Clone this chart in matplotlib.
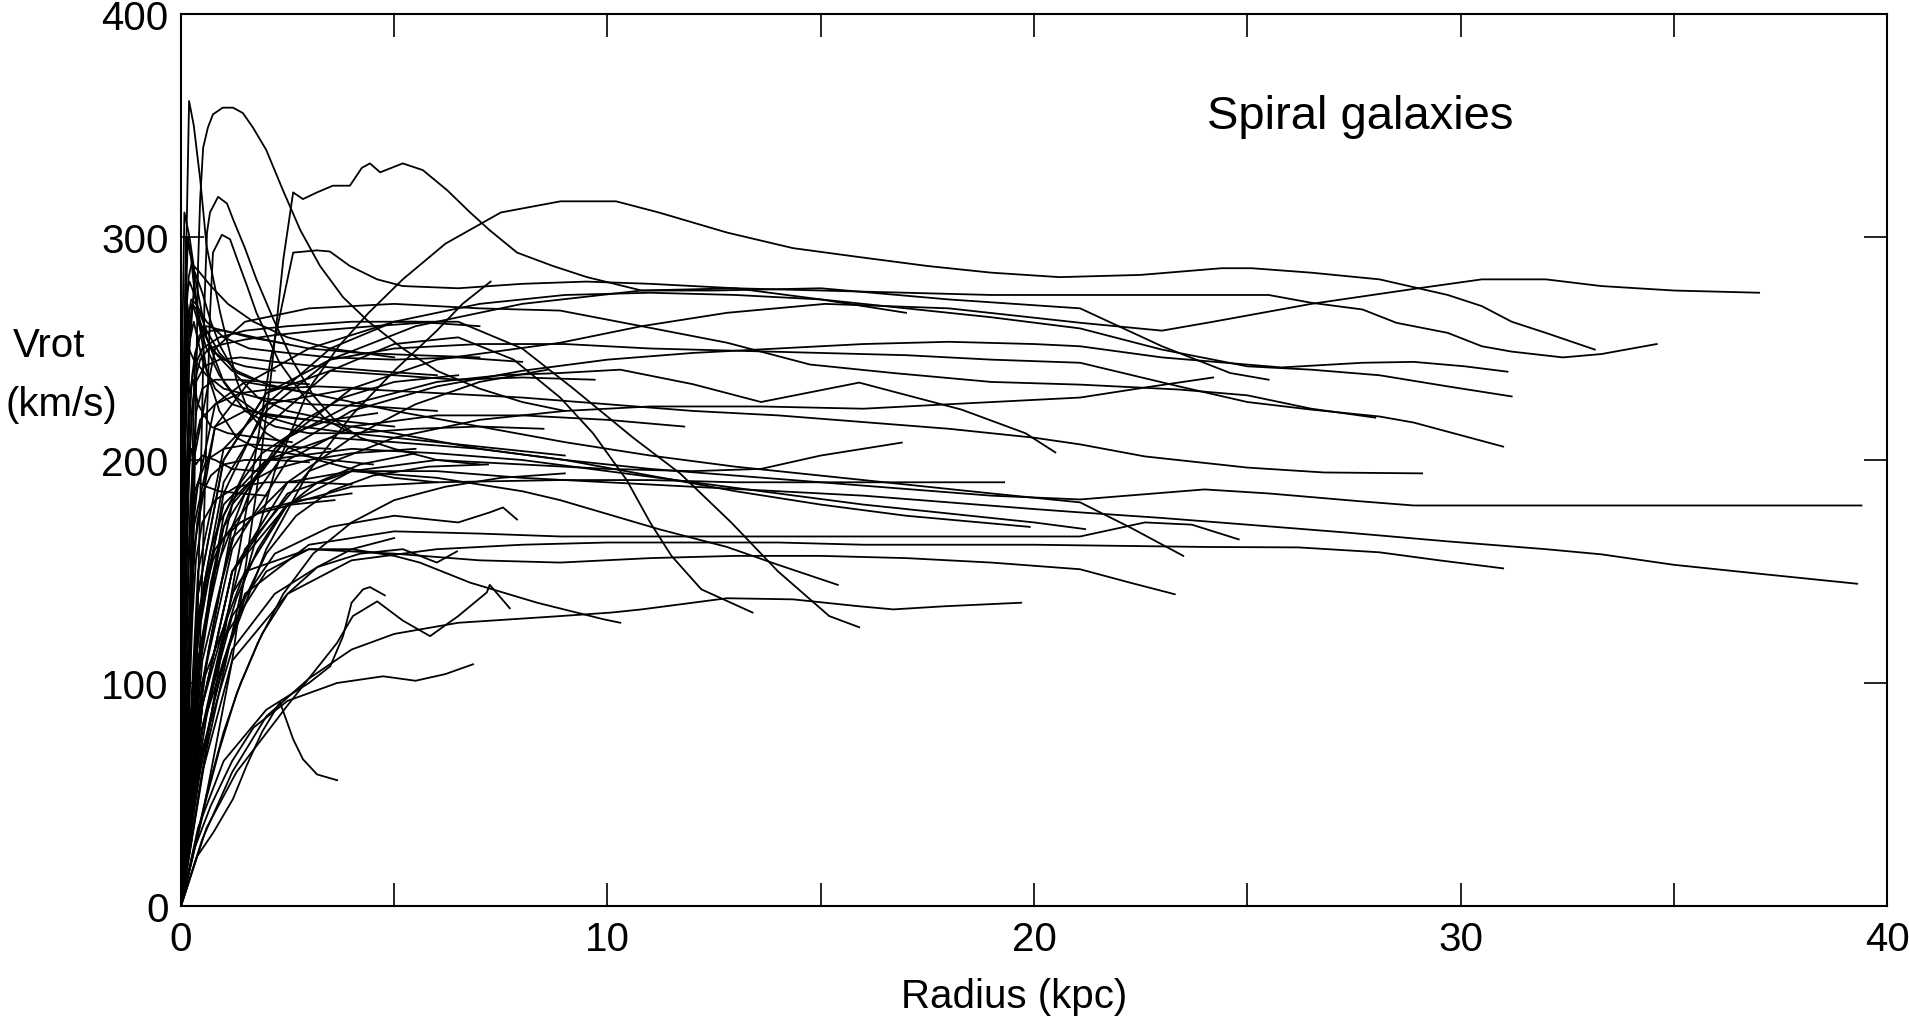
import numpy as np
import matplotlib.pyplot as plt

plt.rcParams['font.family'] = ['Liberation Sans', 'DejaVu Sans']

# rotation curves: (radius in kpc, Vrot in km/s)
g01 = ([0, 0.3, 0.8, 1.5, 2.5, 4, 6, 8.9, 10.8, 12.8, 15.1, 18, 21.1, 23, 24.2, 26.5, 28.9, 30.5, 32, 33.3, 35, 37.0],
       [0, 90, 150, 185, 210, 232, 245, 252.6, 260, 266, 270, 268, 261.5, 258, 262, 270, 276.7, 281, 281, 278, 276, 275])
g02 = ([0, 0.6, 1.4, 2.2, 3.0, 3.7, 4.4, 5.2, 6.2, 7.5, 8.9, 10.2, 11.2, 12.8, 14.35, 15.9, 17.5, 19.0, 20.6, 22.5,
        24.4, 25.1, 26.5, 28.1, 29.7, 30.5, 31.2, 32.0, 33.15],
       [0, 70, 140, 195, 232, 251, 266, 281, 297, 311, 316, 316, 311, 302, 295, 291, 287, 284, 282, 283,
        286, 286, 284, 281, 274, 269, 262, 257, 249.5])
g03 = ([0, 0.5, 1.2, 1.8, 2.1, 2.4, 2.63, 2.86, 3.19, 3.56, 3.96, 4.24, 4.43, 4.67, 5.2, 5.67, 6.24, 6.78, 7.24,
        7.88, 8.72, 9.52, 10.8, 12.5, 15, 18, 21.08, 23, 24.6, 25.5],
       [0, 40, 110, 190, 236, 290, 320, 317, 320, 323, 323, 331, 333, 329, 333, 330, 321, 311, 303,
        293, 287, 282, 276, 276, 277, 272, 268, 251, 239, 236])
g04 = ([0, 0.4, 1, 2, 3.5, 5.5, 8, 10.8, 13, 15, 17, 19, 21.08, 23, 25.5, 26.5, 27.7, 28.5, 29.7, 30.5, 31.2, 32.4, 33.3, 34.6],
       [0, 130, 190, 222, 245, 260, 270, 276, 277, 276, 275, 274, 274, 274, 274, 270.5, 267.5, 261.5, 257, 251, 248.6, 246, 247.5, 252])
g05 = ([0, 0.3, 0.8, 1.6, 3, 5, 7, 9, 11, 13, 15, 17, 19, 21.08, 23, 25, 26.5, 28.1, 29.7, 31.2],
       [0, 160, 215, 235, 250, 262, 270, 274, 275, 274, 272, 268, 264, 259, 249.5, 242, 240.5, 238, 233, 228.5])
g06 = ([0, 0.5, 1.2, 2.5, 4, 6, 8, 10, 12, 14, 16, 18, 20, 21.08, 23, 25.8, 27.7, 28.9, 30.1, 31.1],
       [0, 100, 170, 205, 222, 233, 240, 245, 248, 250, 252, 253, 252, 251, 246, 241.5, 243.6, 244, 242, 239.6])
g07 = ([0, 0.4, 1, 2, 3.5, 5, 7, 9, 11, 13, 15, 17, 19, 21.08, 23.4, 25, 26.5, 28.1, 28.9, 31.0],
       [0, 140, 200, 230, 245, 250, 252, 252, 250, 249, 248, 247, 245, 243.6, 233, 226, 222.6, 219.5, 216.8, 206])
g08 = ([0, 0.3, 0.8, 1.5, 3, 5, 7, 8.89, 10.8, 12.8, 14.75, 16.7, 19, 21.08, 23.4, 25, 26.5, 28.0],
       [0, 200, 250, 262, 268, 270, 268, 267, 260, 252.6, 242.8, 239, 235, 233.8, 231.6, 229, 223, 219])
g09 = ([0, 0.5, 1.2, 2.5, 4, 6, 7.5, 8.89, 10.3, 12, 13.6, 15.9, 18.3, 19.8, 20.5],
       [0, 120, 180, 210, 225, 235, 238, 239, 240.5, 234, 226, 234.7, 222.6, 212, 203.4])
g10 = ([0, 0.5, 1.5, 3, 5, 7, 9, 11, 13.6, 16, 18, 21.08, 22.6, 24.2],
       [0, 90, 160, 195, 210, 218, 222, 224, 224, 223, 225, 228, 232.5, 237])
g11 = ([0, 0.4, 1, 2, 4, 6, 8, 10, 12, 14, 16, 18, 20, 21.08, 22.6, 25, 26.8, 29.1],
       [0, 150, 205, 225, 232, 230, 228, 225, 222, 220, 217, 214, 210, 207, 201.6, 196.6, 194.4, 194])
g12 = ([0, 0.3, 0.8, 1.5, 3, 5, 7, 9, 11, 13, 15, 17, 19, 21.08, 24, 25.5, 27.7, 28.9, 39.4],
       [0, 170, 215, 222, 218, 212, 205, 200, 196, 193, 190, 187, 184, 182.3, 186.8, 185, 181.4, 179.6, 179.6])
g13 = ([0, 0.5, 1.2, 2.5, 4, 6, 8, 10, 12, 14, 16, 18, 20, 21.08, 23, 25, 27.3, 29.7, 32, 33.3, 35, 37, 39.3],
       [0, 110, 165, 190, 195, 195, 192, 190, 188, 186, 184, 181, 178, 176.5, 174, 171, 167.5, 163.5, 160, 157.7, 153, 149, 144.5])
g14 = ([0, 0.5, 1.5, 3, 5, 7, 8.9, 11, 13, 15, 17, 19, 21.08, 22.6, 23.7, 24.8],
       [0, 80, 140, 162, 168, 167, 165.7, 165.7, 165.7, 165.7, 165.7, 165.7, 165.7, 172, 171, 164.4])
g15 = ([0, 0.3, 0.8, 1.5, 3, 5, 7, 9, 11, 13, 15, 17, 19, 21.08, 22.25, 23.5],
       [0, 180, 225, 235, 230, 222, 215, 208, 202, 197, 193, 189, 185, 181, 169.8, 157])
g16 = ([0, 0.5, 1.2, 2.5, 4, 6, 8, 10, 12, 14, 16, 18, 20, 22, 24, 26.2, 28.1, 29.5, 31.0],
       [0, 60, 110, 140, 155, 160, 162, 163, 163, 163, 162, 162, 162, 161.5, 161, 160.8, 158.6, 155, 151.4])
g17 = ([0, 0.5, 1.5, 3, 5, 7, 8.89, 11, 13, 15, 17, 19, 21.08, 22.25, 23.3],
       [0, 100, 150, 160, 158, 155, 154, 156, 157, 157, 156, 154, 151, 145, 139.8])
g18 = ([0, 0.4, 1, 2, 4, 6, 8, 10, 12, 14, 16, 18, 20, 21.2],
       [0, 130, 180, 200, 205, 203, 200, 195, 190, 185, 180, 176, 172, 169])
g19 = ([0, 0.5, 1.2, 2, 3, 4, 5, 6.5, 8.89, 10.1, 10.8, 12, 12.8, 14.35, 15.1, 15.9, 16.7, 17.9, 19.7],
       [0, 30, 60, 85, 102, 115, 122, 127, 130, 131.6, 133, 136, 138, 137.5, 136, 134.4, 133, 134.4, 136])
g20 = ([0, 0.4, 1, 2, 3.5, 5, 6.5, 7.8, 8.89, 9.66, 10.45, 11, 11.5, 12.2, 13.4],
       [0, 110, 175, 215, 240, 252, 255, 245, 228, 212, 191, 172, 157, 142, 131.6])
g21 = ([0, 0.4, 1, 2, 3.5, 5, 6.5, 8, 9.2, 10.6, 11.7, 12.9, 14, 14.6, 15.2, 15.9],
       [0, 120, 185, 225, 250, 262, 262, 250, 232, 210, 194, 172, 150, 140, 130, 125])
g22 = ([0, 0.5, 1.2, 2.5, 4, 6, 8, 8.89, 11.2, 12.8, 14, 15.4],
       [0, 90, 150, 185, 195, 192, 186, 182, 169, 161, 153, 144])
g23 = ([0, 0.4, 1, 2, 3, 4, 5, 5.6, 6.78, 8.35, 9.9, 10.3],
       [0, 70, 120, 150, 160, 160, 157, 154, 145, 136, 128.6, 127])
g24 = ([0, 0.6, 1.3, 2.5, 3.66, 4.03, 4.6, 5.2, 5.84, 6.5, 7.17, 7.24, 7.71],
       [0, 35, 60, 90, 118, 130, 136.6, 128, 121, 130, 140.6, 144, 133.5])
g25 = ([0, 0.4, 1, 2, 3, 3.5, 3.8, 4.0, 4.27, 4.43, 4.78],
       [0, 35, 65, 88, 100, 107.5, 121, 136, 142, 143, 139.3])
g26 = ([0, 0.3, 0.7, 1.2, 1.7, 2.5, 3.66, 4.74, 5.5, 6.2, 6.85],
       [0, 25, 45, 65, 80, 92, 100, 103, 101, 104, 108.4])
g27 = ([0, 0.37, 0.76, 1.22, 1.54, 1.9, 2.32, 2.44, 2.63, 2.86, 3.19, 3.66],
       [0, 22, 33, 48, 63, 78, 91.4, 85, 74.8, 65.8, 59, 56.4])
g28 = ([0, 0.5, 1.2, 2.2, 3.2, 4.2, 5.2, 6.0, 6.47],
       [0, 70, 115, 140, 152, 158, 160, 154, 159])
g29 = ([0, 0.5, 1.2, 2.2, 3.5, 5, 6.5, 7.24, 7.55, 7.88],
       [0, 80, 130, 158, 170, 175, 172, 176.5, 178.7, 173.3])
g30 = ([0, 0.08, 0.19, 0.3, 0.45, 0.6, 0.92, 1.3, 1.6, 2.0, 2.6, 3.2, 4.0, 5.0, 6.0],
       [0, 250, 361, 350, 326, 296, 266, 236, 221, 212, 205, 200, 196, 192, 190])
g31 = ([0, 0.03, 0.08, 0.2, 0.35, 0.6, 1.0, 1.5, 2.2, 3, 4, 5.5, 7, 8.5],
       [0, 250, 311, 300, 280, 255, 235, 222, 215, 212, 212, 214, 215, 214])
g32 = ([0, 0.05, 0.12, 0.25, 0.4, 0.6, 0.9, 1.3, 1.8, 2.5, 3.5, 4.5],
       [0, 220, 300, 290, 265, 240, 222, 210, 205, 203, 200, 198])
g33 = ([0, 0.3, 0.45, 0.55, 0.61, 0.68, 0.87, 1.08, 1.22, 1.5, 1.77, 2.17, 2.63, 3.1, 3.6, 4.2, 5, 6, 7],
       [0, 60, 180, 270, 302, 311, 318, 315, 308, 295, 281, 263, 244, 229, 218, 210, 205, 200, 198])
g34 = ([0, 0.35, 0.55, 0.68, 0.75, 0.96, 1.15, 1.3, 1.55, 1.77, 2.3, 2.86, 3.4, 4, 5, 6, 7.5, 9],
       [0, 60, 180, 265, 293, 301, 299, 291, 278, 266, 244, 229, 218, 212, 210, 208, 205, 202])
g35 = ([0, 0.15, 0.3, 0.37, 0.4, 0.45, 0.52, 0.63, 0.75, 0.98, 1.22, 1.45, 1.69, 2.0, 2.39, 2.8, 3.26, 3.8,
        4.4, 5.2, 6.0, 7.0, 8.0, 9.0],
       [0, 60, 170, 250, 287, 317, 340, 349, 355, 358, 358, 355.6, 349, 339, 321, 303, 287, 273,
        262, 250, 240, 232, 226, 222])
g36 = ([0, 0.1, 0.2, 0.33, 0.5, 0.7, 0.92, 1.3, 1.8, 2.5, 3.5, 5],
       [0, 150, 250, 284, 275, 262, 251, 238, 228, 222, 218, 215])
g37 = ([0, 0.5, 1.0, 1.6, 2.1, 2.63, 3.19, 3.49, 3.96, 4.6, 5.2, 6.5, 8, 9.5, 11, 13, 15, 17],
       [0, 60, 120, 185, 245, 293, 294, 293.5, 287, 281, 278, 277, 279, 280, 279, 277, 272, 266])
g38 = ([0, 0.4, 1, 2, 3, 4, 5, 6, 6.6, 7.26],
       [0, 60, 110, 160, 195, 220, 240, 258, 270, 280])
g39 = ([0, 0.5, 1.2, 2.5, 4, 5.5, 7, 8.6],
       [0, 90, 150, 190, 210, 225, 235, 240.5])
g40 = ([0, 0.4, 1, 2, 3.5, 5, 6.5, 8, 9.7],
       [0, 140, 200, 230, 240, 238, 236, 237, 236])
g41 = ([0, 0.5, 1.2, 2.5, 4, 6, 8.9, 11, 13, 15, 17, 19.3],
       [0, 90, 150, 180, 188, 190, 191, 191, 190, 190, 190, 190])
g42 = ([0, 0.4, 1, 2, 3.5, 5, 7, 9, 11, 13, 15, 17, 19.9],
       [0, 110, 170, 200, 210, 208, 205, 200, 193, 186, 180, 175, 170])
g43 = ([0, 0.5, 1.2, 2.5, 4, 6, 8, 10, 12, 13.6, 15, 16.9],
       [0, 80, 140, 180, 195, 200, 198, 196, 195, 196, 202, 207.8])
g44 = ([0, 0.5, 1.2, 2.5, 4, 6, 8, 10, 11.8],
       [0, 100, 160, 200, 215, 220, 220, 218, 215])
g45 = ([0, 0.05, 0.1, 0.15, 0.22, 0.3, 0.5, 0.8, 1.2, 2.0, 3.0],
       [0, 150, 230, 270, 255, 262, 245, 232, 225, 220, 218])
g46 = ([0, 0.04, 0.08, 0.14, 0.2, 0.28, 0.4, 0.7, 1.1, 1.8, 2.6],
       [0, 120, 200, 240, 230, 236, 225, 215, 212, 210, 208])
g47 = ([0, 0.06, 0.12, 0.18, 0.25, 0.35, 0.5, 0.8, 1.2, 1.8],
       [0, 90, 160, 195, 205, 198, 202, 200, 196, 195])
g48 = ([0, 0.05, 0.1, 0.16, 0.24, 0.32, 0.45, 0.7, 1.0, 1.5, 2.2],
       [0, 180, 260, 300, 290, 275, 262, 250, 245, 242, 240])
g49 = ([0, 0.07, 0.14, 0.2, 0.3, 0.4, 0.6, 0.9, 1.4, 2.0],
       [0, 60, 120, 165, 185, 190, 188, 186, 185, 184])
g50 = ([0, 0.05, 0.11, 0.18, 0.26, 0.35, 0.5, 0.8, 1.2, 1.7],
       [0, 130, 210, 255, 270, 268, 258, 248, 240, 236])
g51 = ([0, 0.02, 0.05, 0.1, 0.18, 0.3, 0.6, 1.0, 1.8, 3, 4.5, 6],
       [0, 80, 170, 230, 250, 245, 238, 232, 228, 225, 224, 222])
g52 = ([0, 0.03, 0.07, 0.12, 0.2, 0.28, 0.5, 0.9, 1.5, 2.5, 4, 5.5, 7],
       [0, 60, 130, 190, 225, 240, 250, 255, 258, 260, 262, 262, 260])
g53 = ([0, 0.04, 0.09, 0.15, 0.22, 0.3, 0.45, 0.8, 1.4, 2.2, 3.2, 4.5],
       [0, 40, 90, 140, 180, 205, 218, 225, 230, 232, 233, 232])
g54 = ([0, 0.02, 0.06, 0.1, 0.16, 0.24, 0.35, 0.6, 1.0, 1.6, 2.5, 3.5, 5, 6.5, 8],
       [0, 100, 190, 240, 262, 272, 270, 262, 255, 250, 248, 246, 245, 246, 244])
g55 = ([0, 0.05, 0.1, 0.16, 0.22, 0.28, 0.4, 0.6, 1.0, 1.6, 2.5, 3.5],
       [0, 30, 70, 110, 145, 170, 190, 200, 205, 207, 206, 205])
g56 = ([0, 0.03, 0.08, 0.13, 0.19, 0.26, 0.35, 0.55, 0.9, 1.4, 2.2, 3.2, 4.5, 6],
       [0, 50, 110, 160, 200, 222, 235, 242, 245, 246, 244, 242, 240, 238])
g57 = ([0, 0.06, 0.12, 0.2, 0.27, 0.35, 0.5, 0.8, 1.3, 2, 3, 4],
       [0, 25, 55, 95, 130, 155, 172, 182, 188, 190, 190, 189])
g58 = ([0, 0.02, 0.04, 0.08, 0.12, 0.18, 0.25, 0.4, 0.7, 1.1, 1.7, 2.5, 3.5, 5],
       [0, 90, 160, 230, 265, 282, 288, 285, 278, 270, 262, 255, 250, 246])
g59 = ([0, 0.08, 0.15, 0.22, 0.3, 0.4, 0.55, 0.8, 1.2, 1.8, 2.6, 3.6],
       [0, 20, 45, 75, 100, 125, 145, 160, 170, 176, 180, 182])
g60 = ([0, 0.04, 0.1, 0.17, 0.25, 0.33, 0.45, 0.7, 1.0, 1.5, 2.2, 3.0, 4.2, 5.5, 7],
       [0, 70, 150, 205, 235, 248, 255, 258, 258, 256, 253, 250, 248, 247, 246])
g61 = ([0, 0.1, 0.2, 0.3, 0.4, 0.55, 0.75, 1.0, 1.4, 2.0, 2.8, 4.0],
       [0, 30, 65, 95, 120, 140, 155, 165, 172, 178, 182, 185])
g62 = ([0, 0.03, 0.07, 0.11, 0.15, 0.2, 0.27, 0.4, 0.6, 0.9, 1.3, 1.9, 2.8, 4],
       [0, 100, 180, 230, 255, 268, 270, 262, 250, 238, 228, 220, 215, 212])
g63 = ([0, 0.05, 0.1, 0.15, 0.2, 0.26, 0.33, 0.45, 0.65, 1.0, 1.5, 2.2, 3.2, 4.5, 6],
       [0, 55, 115, 165, 200, 222, 236, 245, 250, 252, 254, 256, 258, 260, 262])
g64 = ([0, 0.07, 0.14, 0.21, 0.29, 0.38, 0.5, 0.7, 1.0, 1.5, 2.2, 3],
       [0, 35, 80, 120, 150, 172, 185, 193, 198, 200, 200, 199])
g65 = ([0, 0.02, 0.05, 0.09, 0.14, 0.2, 0.28, 0.4, 0.6, 0.9, 1.3, 2.0, 3.0],
       [0, 120, 210, 255, 275, 280, 276, 268, 258, 248, 240, 234, 230])
g66 = ([0, 0.12, 0.22, 0.32, 0.42, 0.55, 0.7, 0.9, 1.2, 1.6, 2.2, 3, 4, 5.5],
       [0, 35, 70, 100, 125, 145, 160, 172, 182, 190, 196, 200, 203, 205])
g67 = ([0, 0.2, 0.45, 0.75, 1.1, 1.5, 2.0, 2.7, 3.5, 4.5, 5.8, 7.2],
       [0, 30, 60, 90, 115, 138, 158, 175, 186, 193, 197, 198])
g68 = ([0, 0.15, 0.35, 0.6, 0.9, 1.3, 1.8, 2.4, 3.2, 4.2, 5.5],
       [0, 25, 55, 85, 112, 138, 160, 178, 190, 198, 203])
g69 = ([0, 0.25, 0.55, 0.9, 1.3, 1.8, 2.4, 3.1, 4.0, 5.0, 6.2, 7.5, 9],
       [0, 20, 45, 70, 95, 118, 140, 158, 172, 182, 188, 192, 194])
g70 = ([0, 0.1, 0.25, 0.45, 0.7, 1.0, 1.4, 1.9, 2.6, 3.5, 4.6],
       [0, 30, 70, 110, 145, 170, 190, 203, 212, 218, 221])
g71 = ([0, 0.3, 0.6, 1.0, 1.4, 1.9, 2.5, 3.2, 4.0, 5.0],
       [0, 25, 50, 78, 100, 122, 140, 152, 160, 165])
g72 = ([0, 0.18, 0.4, 0.65, 0.95, 1.3, 1.7, 2.2, 2.9, 3.8, 5.0, 6.5],
       [0, 40, 80, 115, 145, 170, 190, 205, 218, 228, 235, 238])
g73 = ([0, 0.15, 0.2, 0.24, 0.28, 0.32, 0.4, 0.6, 1.0, 1.6, 2.5],
       [0, 40, 100, 160, 210, 240, 255, 260, 258, 255, 252])
g74 = ([0, 0.12, 0.18, 0.22, 0.26, 0.3, 0.36, 0.5, 0.8, 1.3, 2.0, 3.0],
       [0, 30, 80, 130, 175, 205, 222, 232, 236, 236, 235, 234])

galaxies = [g01, g02, g03, g04, g05, g06, g07, g08, g09, g10,
            g11, g12, g13, g14, g15, g16, g17, g18, g19, g20,
            g21, g22, g23, g24, g25, g26, g27, g28, g29, g30,
            g31, g32, g33, g34, g35, g36, g37, g38, g39, g40,
            g41, g42, g43, g44, g45, g46, g47, g48, g49, g50,
            g51, g52, g53, g54, g55, g56, g57, g58, g59, g60,
            g61, g62, g63, g64, g65, g66, g67, g68, g69, g70,
            g71, g72, g73, g74]

x_ticks = [0, 5, 10, 15, 20, 25, 30, 35, 40]
x_tick_labels = ['0', '', '10', '', '20', '', '30', '', '40']
y_ticks = [0, 100, 200, 300, 400]

fig = plt.figure(figsize=(19.09, 10.20), dpi=100)
ax = fig.add_axes([0.0948, 0.1108, 0.8937, 0.8745])

for r, v in galaxies:
    ax.plot(r, v, color='black', lw=1.3)

ax.set_xlim(0, 40)
ax.set_ylim(0, 400)
ax.set_xticks(x_ticks)
ax.set_xticklabels(x_tick_labels)
ax.set_yticks(y_ticks)
ax.tick_params(direction='in', length=16.5, width=1.2, top=True, right=True,
               labelsize=29, color='black')
ax.tick_params(axis='x', pad=10)
ax.tick_params(axis='y', pad=9)
for s in ax.spines.values():
    s.set_linewidth(1.5)

ax.text(24.06, 349, 'Spiral galaxies', fontsize=34, ha='left', va='baseline')

fig.text(0.0257, 0.661, 'Vrot', fontsize=29, ha='center', va='center')
fig.text(0.032, 0.603, '(km/s)', fontsize=29, ha='center', va='center')
fig.text(0.531, 0.0225, 'Radius (kpc)', fontsize=29, ha='center', va='center')

fig.savefig('out.png', dpi=100)
